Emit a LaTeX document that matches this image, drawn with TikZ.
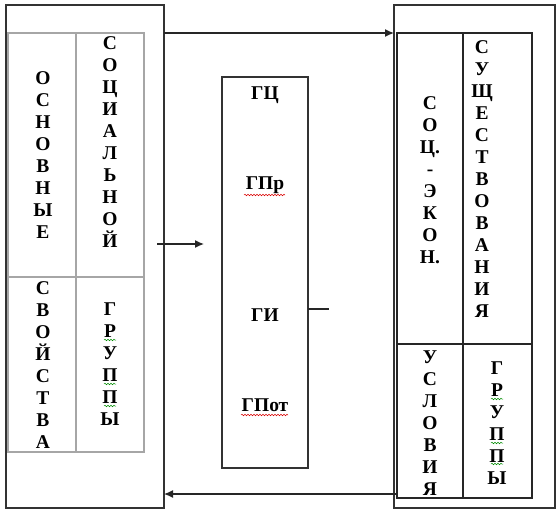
\documentclass[tikz,border=0pt]{standalone}
\usepackage{fontspec}
\setmainfont{Liberation Serif}
\usetikzlibrary{arrows.meta,decorations.pathmorphing}
\begin{document}
\begin{tikzpicture}[x=1pt,y=-1pt,
  box/.style={draw=black!80, line width=1.3pt, inner sep=0pt, outer sep=0pt, anchor=north west},
  ltable/.style={draw=black!35, line width=1.1pt},
  rtable/.style={draw=black!85, line width=1.1pt},
  letters/.style={font=\bfseries\fontsize{19.5}{22}\selectfont, align=center, inner sep=0pt},
  lbl/.style={font=\bfseries\fontsize{19.5}{22}\selectfont, inner sep=0pt},
  conn/.style={draw=black!85, line width=1.3pt},
  arr/.style={conn, -{Latex[length=9pt,width=8pt]}},
  spellred/.style={draw=red!85!black, line width=0.5pt, decorate, decoration={snake, amplitude=0.8pt, segment length=3pt}},
  spellgreen/.style={draw=green!55!black, line width=0.5pt, decorate, decoration={snake, amplitude=0.8pt, segment length=3pt}}
]
\useasboundingbox (0,0) rectangle (557,515);

% outer boxes
\node[box, minimum width=158pt, minimum height=503pt] (lbox) at (6,5) {};
\node[box, minimum width=161pt, minimum height=503pt] (rbox) at (394,5) {};
\node[box, minimum width=86pt, minimum height=391pt] (mbox) at (222,77) {};

% left table
\node[ltable, inner sep=0pt, outer sep=0pt, anchor=north west, minimum width=136pt, minimum height=419pt] (ltab) at (8,33) {};
\draw[ltable] (76,33) -- (76,452);
\draw[ltable] (8,277) -- (144,277);

% right table
\node[rtable, inner sep=0pt, outer sep=0pt, anchor=north west, minimum width=135pt, minimum height=465pt] (rtab) at (397,33) {};
\draw[rtable] (463,33) -- (463,498);
\draw[rtable] (397,344) -- (532,344);

% left table texts
\node[letters] (osn) at (43,155) {О\\С\\Н\\О\\В\\Н\\Ы\\Е};
\node[letters] (soc) at (110,142) {С\\О\\Ц\\И\\А\\Л\\Ь\\Н\\О\\Й};
\node[letters] (svo) at (43,365) {С\\В\\О\\Й\\С\\Т\\В\\А};
\node[letters] (grl) at (110,364) {Г\\Р\\У\\П\\П\\Ы};

% right table texts
\node[letters] (sek) at (430,180) {С\\О\\Ц.\\-\\Э\\К\\О\\Н.};
\node[letters] (sus) at (482,179) {С\\У\\Щ\\Е\\С\\Т\\В\\О\\В\\А\\Н\\И\\Я};
\node[letters] (usl) at (430,423) {У\\С\\Л\\О\\В\\И\\Я};
\node[letters] (grr) at (497,423) {Г\\Р\\У\\П\\П\\Ы};

% middle labels
\node[lbl] (gc) at (265,95) {ГЦ};
\node[lbl] (gpr) at (265,185) {ГПр};
\node[lbl] (gi) at (265,315) {ГИ};
\node[lbl] (gpot) at (265,405) {ГПот};

% spell-check underlines
\draw[spellred] (244,195) -- (285,195);
\draw[spellred] (241,415) -- (288,415);
\draw[spellgreen] (104,340) -- (116,340);
\draw[spellgreen] (104,384) -- (116,384);
\draw[spellgreen] (104,406) -- (116,406);
\draw[spellgreen] (491,399) -- (503,399);
\draw[spellgreen] (491,443) -- (503,443);
\draw[spellgreen] (491,464) -- (503,464);

% connectors
\coordinate (ytop) at (0,33);
\coordinate (ybot) at (0,494);
\coordinate (a2s) at (157,244);
\coordinate (a2e) at (204,244);
\coordinate (y3) at (0,309);
\coordinate (l3e) at (329,309);
\draw[arr] (lbox.east |- ytop) -- (rbox.west |- ytop);
\draw[arr] (a2s) -- (a2e);
\draw[conn] (mbox.east |- y3) -- (l3e);
\draw[arr] (rtab.west |- ybot) -- (lbox.east |- ybot);
\end{tikzpicture}
\end{document}
